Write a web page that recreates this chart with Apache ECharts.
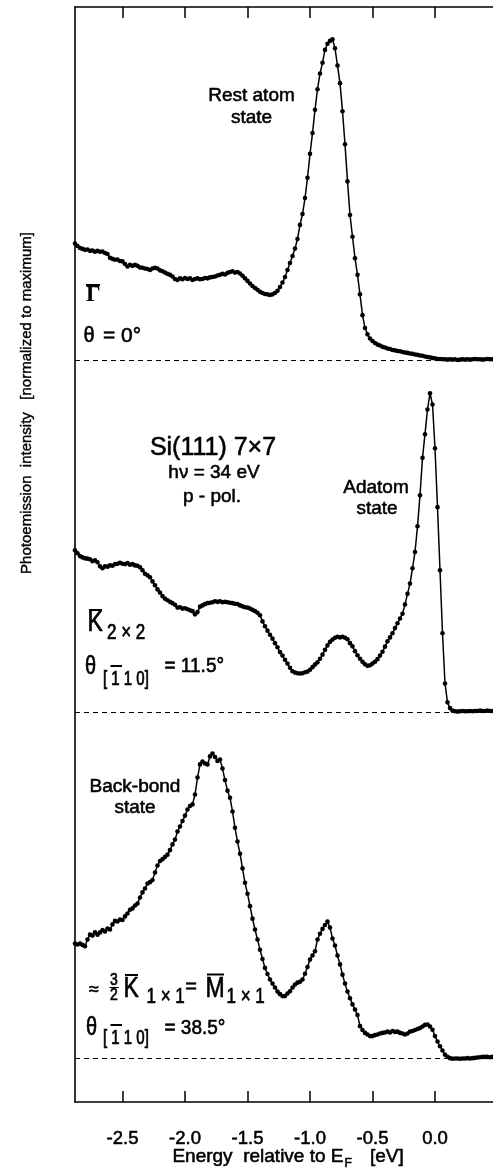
<!DOCTYPE html>
<html>
<head>
<meta charset="utf-8">
<script src="https://cdn.jsdelivr.net/npm/echarts@6/dist/echarts.min.js"></script>
<style>
html,body{margin:0;padding:0;background:#fff;}
#chart{width:493px;height:1169px;}
</style>
</head>
<body>
<div id="chart"></div>
<script>
// Energy sampling grid of the spectra (eV relative to E_F)
const E_START = -2.88;
const E_STEP = 0.02;
// Tick positions on the energy axis
const energyTicks = [-2.5, -2.0, -1.5, -1.0, -0.5, 0.0];
// Vertical offsets of the three spectra (intensity units, max = 100)
const offsetGamma = 231.9;
const offsetK = 121.9;
const offsetM = 13.8;

// Gamma-bar, theta = 0 deg (normalized intensity, %)
const gammaSpectrum = [
 36.4,35.6,35.0,34.7,34.4,34.5,34.1,34.2,33.8,34.1,
 33.8,33.9,33.4,33.1,31.9,31.6,31.3,31.4,30.9,30.8,
 30.0,29.2,29.7,29.4,29.7,29.4,28.9,28.8,28.6,28.4,
 28.1,28.6,28.8,28.6,28.0,27.7,27.3,26.9,26.6,26.1,
 25.3,25.0,25.5,25.2,25.6,25.3,25.5,25.0,25.3,25.5,
 25.2,25.3,25.6,25.5,25.8,25.9,26.1,26.4,26.6,26.9,
 26.7,27.2,27.5,27.7,27.3,27.5,27.0,26.3,25.5,24.7,
 23.9,23.1,22.5,21.9,21.3,20.9,20.6,20.5,20.3,20.5,
 20.9,21.6,22.8,24.2,25.9,28.1,30.3,32.5,34.8,37.8,
 42.2,45.6,50.6,56.9,64.4,70.9,78.2,84.6,89.5,92.9,
 96.9,98.8,99.7,100.2,97.4,92.0,86.5,77.7,67.4,55.8,
 45.3,38.5,31.8,26.6,20.5,14.0,10.0,8.0,6.7,5.9,
 5.3,4.8,4.5,4.1,3.9,3.6,3.4,3.1,3.0,2.8,
 2.7,2.5,2.3,2.2,2.0,1.9,1.7,1.6,1.4,1.3,
 1.1,0.9,0.8,0.6,0.5,0.3,0.3,0.2,0.2,0.1,
 0.2,0.1,0.2,0.0,0.1,0.2,0.1,0.2,0.1,0.2,
 0.3,0.2,0.2,0.1,0.2,0.3,0.2,0.2
];

// K-bar 2x2, theta = 11.5 deg
const kSpectrum = [
 50.5,49.6,48.7,48.3,48.0,47.9,47.7,47.1,47.4,46.8,
 45.5,44.9,45.5,45.4,45.8,45.7,46.2,46.3,46.6,46.3,
 46.2,46.5,46.0,46.2,45.8,45.7,45.2,44.3,43.2,42.7,
 42.1,40.8,39.6,38.3,37.3,36.2,35.4,34.9,34.4,34.0,
 33.5,32.6,32.7,32.3,32.4,32.1,31.8,31.5,30.5,31.2,
 32.9,33.3,33.7,34.0,34.1,34.3,34.6,34.4,34.6,34.3,
 34.4,34.3,34.1,34.0,33.8,33.7,33.3,33.0,32.7,32.6,
 32.3,31.9,31.5,31.0,30.2,28.3,26.8,25.4,24.1,22.9,
 21.5,20.2,18.7,17.6,16.3,15.1,13.8,12.7,12.3,12.1,
 12.0,12.1,12.4,12.6,13.2,14.0,14.8,15.5,16.6,17.9,
 19.4,20.8,21.9,22.6,23.2,23.5,23.3,23.5,23.2,22.7,
 21.5,20.5,19.0,17.7,16.6,15.7,14.9,14.4,14.6,15.1,
 15.7,16.5,17.6,18.8,20.4,22.1,23.3,24.6,26.2,27.7,
 29.2,30.7,33.6,36.9,40.1,44.9,50.0,58.0,67.7,79.4,
 86.8,94.5,99.6,96.1,82.4,64.0,44.3,24.6,8.9,3.0,
 1.2,0.4,0.2,0.1,0.2,0.3,0.2,0.2,0.3,0.2,
 0.3,0.3,0.4,0.3,0.3,0.4,0.3,0.3
];

// 3/2 K-bar 1x1 = M-bar 1x1, theta = 38.5 deg
const mSpectrum = [
 35.7,35.4,35.7,35.3,34.9,37.0,38.5,38.2,39.2,38.5,
 39.2,39.9,39.5,40.4,40.1,41.7,42.8,42.6,43.2,43.1,
 44.2,45.1,46.3,46.7,47.6,48.2,50.1,51.7,52.9,54.5,
 54.9,55.6,57.9,60.1,61.5,62.1,62.8,63.5,64.9,66.7,
 68.2,70.7,72.3,74.0,75.7,77.6,78.7,79.2,82.3,87.6,
 91.7,92.6,92.0,91.7,94.2,95.1,94.0,92.8,93.2,90.4,
 86.8,83.5,81.3,77.0,71.9,67.6,63.8,59.2,54.7,51.3,
 47.4,43.5,40.1,37.0,33.8,30.9,28.1,26.2,24.5,23.2,
 22.0,20.7,19.9,19.3,19.3,20.1,20.8,22.0,22.9,23.5,
 23.8,24.5,26.3,28.4,30.7,32.0,33.3,37.0,38.8,40.3,
 41.5,42.6,40.7,37.3,35.1,32.0,29.2,26.0,23.2,20.7,
 18.6,16.7,15.1,13.4,9.9,8.7,7.8,7.3,6.8,6.8,
 7.1,7.3,7.6,7.8,7.9,8.2,7.9,8.4,8.1,8.2,
 7.8,7.6,7.3,7.6,8.2,8.4,8.7,9.0,9.3,9.8,
 10.3,10.4,9.8,8.8,6.8,5.1,3.6,2.3,1.0,0.3,
 -0.1,-0.3,-0.2,-0.2,-0.3,-0.2,-0.2,-0.1,-0.2,-0.1,
 0.0,0.1,0.2,0.3,0.3,0.3,0.2,0.3
];

const SANS = '"Liberation Sans", Arial, Helvetica, sans-serif';
const SERIF = '"Liberation Serif", "Times New Roman", serif';

function pairs(values, offset) {
  return values.map((v, i) => [+(E_START + i * E_STEP).toFixed(3), +(v + offset).toFixed(2)]);
}

function spectrum(values, offset) {
  return {
    type: 'line',
    data: pairs(values, offset),
    symbol: 'circle',
    symbolSize: 4.6,
    showSymbol: true,
    showAllSymbol: true,
    lineStyle: { color: '#000', width: 1.5 },
    itemStyle: { color: '#000' },
    silent: true,
    markLine: {
      silent: true,
      symbol: 'none',
      label: { show: false },
      lineStyle: { color: '#000', width: 1.2, type: [5, 4] },
      data: [{ yAxis: offset }]
    }
  };
}

function T(x, y, text, size, o) {
  o = o || {};
  return {
    type: 'text', x: x, y: y,
    scaleX: o.sx || 1, scaleY: o.sy || 1,
    rotation: o.rot || 0,
    silent: true,
    style: {
      text: text,
      fill: '#000',
      stroke: '#000',
      lineWidth: o.lw == null ? 0.55 : o.lw,
      fontSize: size,
      fontFamily: o.family || SANS,
      fontWeight: o.weight || 'normal',
      align: o.align || 'left',
      verticalAlign: 'middle'
    }
  };
}
function L(x1, y1, x2, y2, w) {
  return { type: 'line', silent: true, shape: { x1: x1, y1: y1, x2: x2, y2: y2 }, style: { stroke: '#000', lineWidth: w || 1.8 } };
}

const axisCommon = {
  type: 'value',
  min: E_START,
  max: 0.464,
  splitLine: { show: false },
  axisLine: { show: true, onZero: false, lineStyle: { color: '#000', width: 1.6 } },
  axisTick: { show: true, inside: true, length: 11, customValues: energyTicks, lineStyle: { color: '#000', width: 1.5 } }
};

const chart = echarts.init(document.getElementById('chart'), null, { renderer: 'canvas' });
chart.setOption({
  animation: false,
  backgroundColor: '#fff',
  grid: { left: 75, right: 0, top: 7, bottom: 67 },
  xAxis: [
    Object.assign({}, axisCommon, {
      position: 'bottom',
      axisLabel: { show: true, customValues: energyTicks, formatter: v => v.toFixed(1), margin: 27, fontSize: 18.5, color: '#000', fontFamily: SANS, textBorderColor: '#000', textBorderWidth: 0.55 }
    }),
    Object.assign({}, axisCommon, {
      position: 'top',
      axisLabel: { show: false }
    })
  ],
  yAxis: {
    type: 'value', min: 0, max: 342.2,
    axisLine: { show: true, onZero: false, lineStyle: { color: '#000', width: 1.6 } },
    axisTick: { show: false }, axisLabel: { show: false }, splitLine: { show: false }
  },
  series: [
    spectrum(gammaSpectrum, offsetGamma),
    spectrum(kSpectrum, offsetK),
    spectrum(mSpectrum, offsetM)
  ],
  graphic: [
    // axis titles
    T(27, 403, 'Photoemission  intensity   [normalized to maximum]', 15, { align: 'center', rot: Math.PI / 2, lw: 0.4 }),
    T(343.5, 1157, 'Energy  relative to E', 19, { align: 'right' }),
    T(344.5, 1164, 'F', 12),
    T(370, 1157, '[eV]', 19),
    // top panel
    T(251.5, 96, 'Rest atom', 19, { align: 'center' }),
    T(251.5, 118, 'state', 19, { align: 'center' }),
    T(86, 295, 'Γ', 23, { family: SERIF, weight: 'bold', lw: 0 }),
    L(86, 285, 100, 285, 2),
    T(83.5, 336, 'θ', 20, { sy: 1.1 }),
    T(103, 336, '= 0°', 21),
    // middle panel
    T(213, 448, 'Si(111) 7×7', 25, { align: 'center' }),
    T(214, 472.5, 'hν = 34 eV', 19, { align: 'center' }),
    T(212, 497, 'p - pol.', 19, { align: 'center' }),
    T(376, 487.5, 'Adatom', 19, { align: 'center' }),
    T(377, 509, 'state', 19, { align: 'center' }),
    T(87.5, 623, 'K', 23, { sy: 1.25 }),
    L(89, 610, 102, 610, 2),
    T(107, 633, '2 × 2', 17, { sy: 1.25 }),
    T(85, 667, 'θ', 20, { sy: 1.25 }),
    T(103, 679, '[ 1 1 0]', 15, { sy: 1.35 }),
    L(110.5, 666, 122, 666, 2),
    T(164.5, 666, '= 11.5°', 19, { sy: 1.1 }),
    // bottom panel
    T(135, 787, 'Back-bond', 19, { align: 'center' }),
    T(135, 808, 'state', 19, { align: 'center' }),
    T(94, 990, '≈', 18, { align: 'center' }),
    T(114, 980, '3', 14, { align: 'center', sy: 1.2 }),
    L(109.5, 987.5, 119, 987.5, 1),
    T(114, 995, '2', 14, { align: 'center', sy: 1.2 }),
    T(123.5, 989.5, 'K', 23, { sy: 1.25 }),
    L(125, 975, 138, 975, 2),
    T(146.5, 997.5, '1 × 1', 17, { sy: 1.25 }),
    T(191, 987, '=', 20, { align: 'center' }),
    T(205.5, 989.5, 'M', 23, { sy: 1.25 }),
    L(207, 974.5, 224, 974.5, 2),
    T(226.5, 997.5, '1 × 1', 17, { sy: 1.25 }),
    T(86, 1028, 'θ', 20, { sy: 1.25 }),
    T(103, 1038, '[ 1 1 0]', 15, { sy: 1.35 }),
    L(110.5, 1025, 122, 1025, 2),
    T(164.5, 1028, '= 38.5°', 19, { sy: 1.1 })
  ]
});
</script>
</body>
</html>
